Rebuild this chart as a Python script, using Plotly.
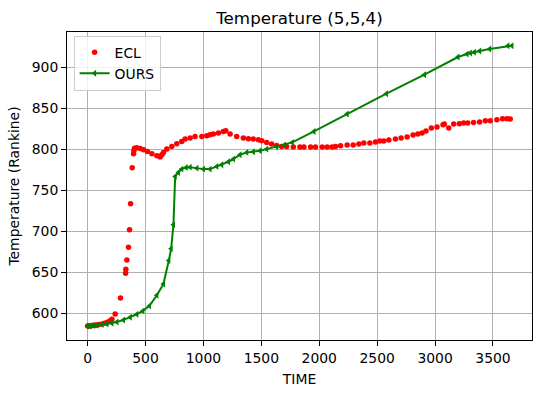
import plotly.graph_objects as go

ecl_time = [0, 10, 23, 40, 52, 65, 80, 100, 124, 145, 167, 190, 210, 238, 284, 328, 330, 339, 353, 362,
            371, 385, 397, 400, 405, 425, 454, 483, 517, 555, 598, 626, 641, 655, 684, 727, 770, 813, 842,
            885, 928, 986, 1029, 1057, 1086, 1129, 1172, 1193, 1230, 1287, 1345, 1388, 1431, 1474, 1503,
            1546, 1589, 1632, 1675, 1718, 1776, 1833, 1868, 1925, 1968, 2026, 2069, 2112, 2141, 2184, 2241,
            2293, 2342, 2385, 2437, 2486, 2523, 2557, 2601, 2658, 2707, 2759, 2810, 2851, 2888, 2922, 2968,
            3017, 3069, 3080, 3118, 3161, 3210, 3247, 3282, 3333, 3385, 3434, 3477, 3534, 3583, 3621, 3649]
ecl_temp = [584.5, 584.5, 584.5, 585.0, 585.3, 585.5, 585.7, 586.3, 587.0, 587.8, 588.6, 590.5, 592.7,
            599.2, 618.7, 648.9, 653.7, 665.1, 680.6, 701.8, 733.6, 777.5, 794.6, 798.7, 801.5, 802.0,
            801.1, 799.5, 797.5, 794.6, 792.2, 790.6, 793.4, 796.3, 800.3, 803.6, 806.8, 809.7, 812.5,
            813.8, 815.8, 815.8, 816.6, 817.8, 818.6, 819.9, 821.9, 822.7, 818.6, 815.8, 813.8, 813.0,
            812.5, 811.7, 810.5, 808.5, 806.4, 804.8, 803.6, 803.6, 802.8, 802.8, 802.8, 802.8, 802.8,
            802.8, 802.8, 802.8, 803.6, 804.4, 805.2, 805.2, 806.4, 807.7, 807.7, 808.9, 810.1, 810.1,
            811.3, 812.5, 813.8, 815.0, 817.4, 818.6, 819.9, 822.3, 826.0, 827.2, 830.0, 830.9, 826.0,
            830.9, 831.3, 832.1, 832.1, 832.9, 833.3, 834.9, 834.9, 836.2, 837.4, 837.4, 837.0]

ours_time = [0, 23, 52, 80, 124, 167, 210, 253, 310, 368, 425, 477, 534, 598, 655, 701, 721, 741, 756,
             784, 813, 851, 885, 943, 1000, 1057, 1115, 1158, 1216, 1259, 1316, 1374, 1431, 1489, 1546,
             1632, 1700, 1767, 1954, 2241, 2580, 2908, 3198, 3276, 3305, 3339, 3385, 3471, 3629, 3664]
ours_temp = [584.5, 584.5, 584.9, 585.3, 586.2, 587.0, 587.8, 589.4, 591.9, 595.1, 598.8, 602.9, 609.0,
             622.0, 635.8, 664.3, 678.6, 707.9, 766.9, 771.8, 775.9, 777.9, 778.3, 777.1, 775.9, 775.9,
             779.2, 781.2, 784.9, 788.1, 793.4, 796.3, 797.1, 798.3, 800.3, 803.2, 805.5, 808.5, 821.9,
             843.1, 867.9, 891.1, 912.7, 916.4, 917.6, 918.4, 920.0, 922.5, 926.5, 926.5]

x_ticks = [0, 500, 1000, 1500, 2000, 2500, 3000, 3500]
y_ticks = [600, 650, 700, 750, 800, 850, 900]

fig = go.Figure()
fig.add_trace(go.Scatter(x=ecl_time, y=ecl_temp, mode="markers", name="ECL",
                         marker=dict(color="#ff0000", size=5.5)))
fig.add_trace(go.Scatter(x=ours_time, y=ours_temp, mode="lines+markers", name="OURS",
                         line=dict(color="#008000", width=2),
                         marker=dict(color="#008000", size=6, symbol="triangle-left")))

axis_common = dict(showline=True, mirror=True, linecolor="black", linewidth=1,
                   showgrid=True, gridcolor="#b0b0b0", gridwidth=1.1,
                   ticks="outside", ticklen=5, tickcolor="black", tickwidth=1,
                   zeroline=False, automargin=False, tickfont=dict(size=13.9, color="black"))

fig.update_layout(
    width=540, height=393,
    margin=dict(l=66.7, r=8.3, t=32.3, b=53, pad=0),
    paper_bgcolor="white", plot_bgcolor="white",
    font=dict(family="DejaVu Sans", size=13.9, color="black"),
    title=dict(text="Temperature (5,5,4)", x=0.5, xref="paper", xanchor="center",
               y=1 - 18.5 / 393, yanchor="middle", font=dict(size=16.7)),
    xaxis=dict(range=[-178, 3837], tickvals=x_ticks,
               title=dict(text="TIME", font=dict(size=13.9), standoff=9), **axis_common),
    yaxis=dict(range=[567.4, 943.2], tickvals=y_ticks,
               title=dict(text="Temperature (Rankine)", font=dict(size=13.9), standoff=8), **axis_common),
    legend=dict(x=0.0142, y=0.988, xanchor="left", yanchor="top", bgcolor="rgba(255,255,255,0.8)",
                bordercolor="#cccccc", borderwidth=1, font=dict(size=13.9), itemwidth=30),
    showlegend=True,
)

fig.write_html("out.html", config={"displayModeBar": False},
               post_script="document.body.style.margin='0';document.body.style.overflow='hidden';")
